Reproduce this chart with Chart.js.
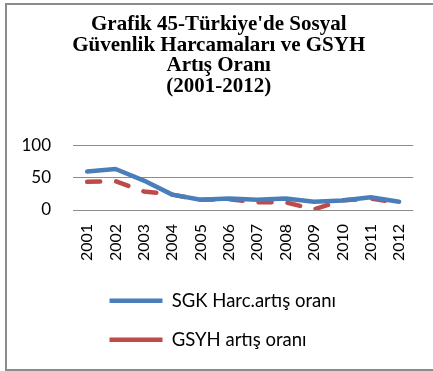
<!DOCTYPE html>
<html>
<head>
<meta charset="utf-8">
<script src="https://cdn.jsdelivr.net/npm/chart.js@4"></script>
<style>
  html, body { margin: 0; padding: 0; background: #fff; }
  #frame {
    position: absolute;
    left: 5px;
    top: 3px;
    width: 426px;
    height: 364px;
    border-left: 2px solid #8c8c8c;
    border-top: 2px solid #8c8c8c;
    border-bottom: 2px solid #8c8c8c;
  }
</style>
</head>
<body>
<div id="frame"><canvas id="growthChart" width="426" height="364"></canvas></div>
<script>
// Yearly growth rates, 2001-2012
const years = ['2001', '2002', '2003', '2004', '2005', '2006', '2007', '2008', '2009', '2010', '2011', '2012'];
const sgkGrowth = [60, 64, 46, 24, 16, 18, 16, 18, 13, 15, 20, 13];
const gdpGrowth = [44, 45, 29, 24, 16, 17, 12, 12, 1, 15, 18, 11];
const yTicks = [0, 50, 100];

const titleLines = [
    "Grafik 45-Türkiye'de Sosyal",
    'Güvenlik Harcamaları ve GSYH',
    'Artış Oranı',
    '(2001-2012)'
];

// nudge the legend block so both rows line up under the plot
const legendOffset = {
    id: 'legendOffset',
    afterLayout(chart) {
        const lg = chart.legend;
        if (lg) {
            lg.left += 16;
            lg.right += 16;
        }
    }
};

const ctx = document.getElementById('growthChart').getContext('2d');
new Chart(ctx, {
    type: 'line',
    data: {
        labels: years,
        datasets: [{
            label: 'SGK Harc.artış oranı',
            data: sgkGrowth,
            borderColor: '#4a7ebb',
            borderWidth: 4.5,
            borderCapStyle: 'round',
            borderJoinStyle: 'round',
            pointRadius: 0,
            tension: 0,
            fill: false
        }, {
            label: 'GSYH artış oranı',
            data: gdpGrowth,
            borderColor: '#be4b48',
            borderWidth: 4.5,
            borderDash: [13, 16],
            borderCapStyle: 'round',
            borderJoinStyle: 'round',
            pointRadius: 0,
            tension: 0,
            fill: false
        }]
    },
    options: {
        responsive: false,
        animation: false,
        devicePixelRatio: 1,
        layout: {
            padding: { left: 15, right: 17.5, top: 0, bottom: 10 }
        },
        plugins: {
            title: {
                display: true,
                text: titleLines,
                color: '#000',
                font: { family: 'Liberation Serif', size: 21, weight: 'bold', lineHeight: 0.976 },
                padding: { top: 9.75, bottom: 49.25 }
            },
            legend: {
                display: true,
                position: 'bottom',
                align: 'start',
                fullSize: false,
                labels: {
                    color: '#000',
                    font: { family: 'Lato', size: 18.5 },
                    usePointStyle: true,
                    pointStyle: 'line',
                    pointStyleWidth: 53,
                    padding: 20.5
                }
            },
            tooltip: { enabled: false }
        },
        scales: {
            x: {
                offset: true,
                grid: { display: false, drawTicks: false },
                border: { display: false },
                ticks: {
                    color: '#000',
                    font: { family: 'Lato', size: 16 },
                    minRotation: 90,
                    maxRotation: 90,
                    padding: 14,
                    autoSkip: false
                },
                afterFit(scale) {
                    scale.height = 61;
                }
            },
            y: {
                min: 0,
                max: 100,
                border: { display: false },
                grid: { color: '#8c8c8c', lineWidth: 1, drawTicks: false },
                afterBuildTicks(scale) {
                    scale.ticks = yTicks.map(v => ({ value: v }));
                },
                afterFit(scale) {
                    scale.width = 51;
                },
                ticks: {
                    color: '#000',
                    font: { family: 'Lato', size: 17 },
                    padding: 22
                }
            }
        }
    },
    plugins: [legendOffset]
});
</script>
</body>
</html>
